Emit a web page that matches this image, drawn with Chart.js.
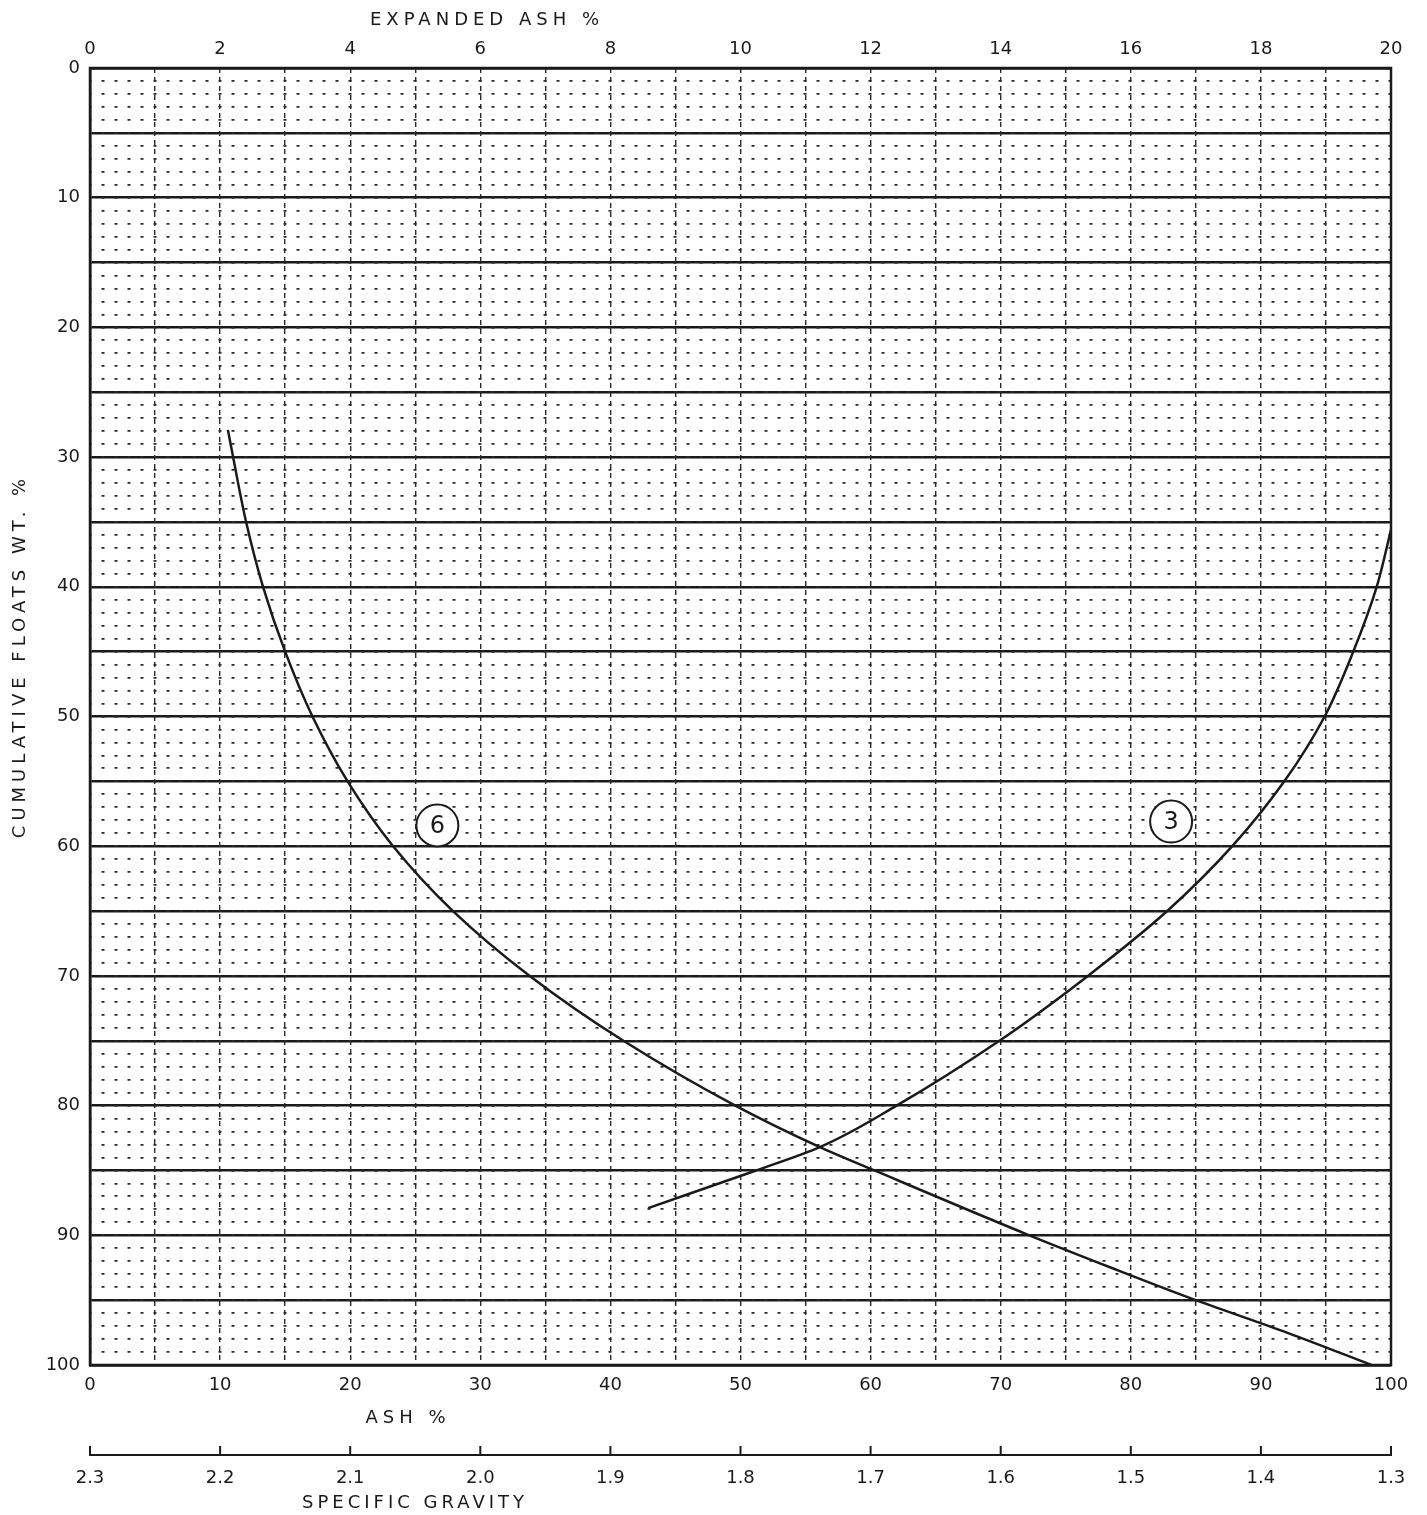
<!DOCTYPE html>
<html>
<head>
<meta charset="utf-8">
<script src="https://cdn.jsdelivr.net/npm/chart.js@4"></script>
<style>
  body { margin: 0; background: #fff; }
  #wrap { width: 1427px; height: 1515px; position: relative; }
</style>
</head>
<body>
<div id="wrap"><canvas id="chart"></canvas></div>
<script>
// Curve 6: ash % vs cumulative floats wt. %
const curve6Ash    = [10.6, 11.0, 12.0, 13.3, 15.0, 17.1, 19.8, 23.3, 27.9, 33.8, 41.0, 49.6, 56.1, 60.3, 72.2, 78.5, 85.0, 92.0, 98.5];
const curve6Floats = [27.9, 30, 35, 40, 45, 50, 55, 60, 65, 70, 75, 80, 83.2, 85, 90, 92.5, 95, 97.5, 100];

// Curve 3
const curve3Ash    = [100, 98.9, 97.1, 94.9, 91.8, 87.8, 82.8, 76.7, 69.9, 62.0, 56.1, 51.2, 42.9];
const curve3Floats = [35.6, 40, 45, 50, 55, 60, 65, 70, 75, 80, 83.2, 85, 87.9];

// curve tags: [label, ash, floats]
const curveTags = [['6', 26.7, 58.4], ['3', 83.1, 58.1]];

// axis ranges / labels
const ashRange = [0, 100];
const expandedAshRange = [0, 20];
const floatsRange = [0, 100];
const sgRange = [1.3, 2.3];

const INK = '#1a1a1a';
const FONT = "'DejaVu Sans', sans-serif";

const toPoints = (xs, ys) => xs.map((x, i) => ({ x: x, y: ys[i] }));

// draws frame, specific gravity tick marks, titles and circled curve numbers
const extras = {
  id: 'extras',
  afterDraw(chart) {
    const ctx = chart.ctx;
    const a = chart.chartArea;
    const sx = chart.scales.x, sy = chart.scales.y, sg = chart.scales.sg;
    ctx.save();

    // frame
    ctx.strokeStyle = INK;
    ctx.lineWidth = 2.5;
    ctx.strokeRect(a.left, a.top, a.right - a.left, a.bottom - a.top);

    // specific gravity ticks point upward
    ctx.lineWidth = 2;
    sg.ticks.forEach(t => {
      const px = sg.getPixelForValue(t.value);
      ctx.beginPath();
      ctx.moveTo(px, sg.top);
      ctx.lineTo(px, sg.top - 9);
      ctx.stroke();
    });

    // titles
    ctx.fillStyle = INK;
    ctx.font = '18px ' + FONT;
    ctx.letterSpacing = '5px';
    ctx.textAlign = 'center';
    ctx.textBaseline = 'middle';
    ctx.fillText('EXPANDED ASH %', 487, 20);
    ctx.fillText('ASH %', 408, 1418);
    ctx.letterSpacing = '4px';
    ctx.fillText('SPECIFIC GRAVITY', 415, 1503);
    ctx.letterSpacing = '5px';
    ctx.save();
    ctx.translate(20, 656);
    ctx.rotate(-Math.PI / 2);
    ctx.fillText('CUMULATIVE FLOATS WT. %', 0, 0);
    ctx.restore();
    ctx.letterSpacing = '0px';

    // circled curve numbers
    curveTags.forEach(([lab, x, y]) => {
      const px = sx.getPixelForValue(x), py = sy.getPixelForValue(y);
      ctx.beginPath();
      ctx.arc(px, py, 21, 0, Math.PI * 2);
      ctx.fillStyle = '#fff';
      ctx.fill();
      ctx.lineWidth = 2;
      ctx.strokeStyle = INK;
      ctx.stroke();
      ctx.fillStyle = INK;
      ctx.font = '24px ' + FONT;
      ctx.fillText(lab, px, py + 1);
    });
    ctx.restore();
  }
};

// curves are smoothed along the floats axis
const lineStyle = {
  showLine: true,
  indexAxis: 'y',
  borderColor: INK,
  borderWidth: 2.5,
  pointRadius: 0,
  cubicInterpolationMode: 'monotone',
  fill: false
};

new Chart(document.getElementById('chart'), {
  type: 'scatter',
  data: {
    datasets: [
      Object.assign({ label: '6', data: toPoints(curve6Ash, curve6Floats) }, lineStyle),
      Object.assign({ label: '3', data: toPoints(curve3Ash, curve3Floats) }, lineStyle)
    ]
  },
  options: {
    responsive: true,
    maintainAspectRatio: false,
    animation: false,
    layout: { padding: { left: 0, right: 36, top: 0, bottom: 0 } },
    plugins: { legend: { display: false }, tooltip: { enabled: false } },
    scales: {
      x: {
        type: 'linear', position: 'bottom', weight: 0,
        min: ashRange[0], max: ashRange[1],
        ticks: {
          stepSize: 5, padding: 10, color: INK, font: { family: FONT, size: 18 },
          maxRotation: 0, autoSkip: false,
          callback: v => (v % 10 === 0 ? String(v) : '')
        },
        grid: { color: '#2a2a2a', lineWidth: 1.4, drawTicks: false },
        border: { display: true, color: INK, width: 2.5, dash: [5, 4] },
        afterFit: s => { s.height = 90; }
      },
      sg: {
        type: 'linear', position: 'bottom', weight: 1,
        min: sgRange[0], max: sgRange[1], reverse: true,
        ticks: {
          stepSize: 0.1, padding: 13, color: INK, font: { family: FONT, size: 18 },
          maxRotation: 0, autoSkip: false,
          callback: v => v.toFixed(1)
        },
        grid: { drawOnChartArea: false, drawTicks: false },
        border: { display: true, color: INK, width: 2 },
        afterFit: s => { s.height = 60; }
      },
      x2: {
        type: 'linear', position: 'top',
        min: expandedAshRange[0], max: expandedAshRange[1],
        ticks: {
          stepSize: 2, padding: 8, color: INK, font: { family: FONT, size: 18 },
          maxRotation: 0, autoSkip: false
        },
        grid: { drawOnChartArea: false, drawTicks: false },
        border: { display: true, color: INK, width: 2.5 },
        afterFit: s => { s.height = 68; }
      },
      y: {
        type: 'linear', position: 'left', reverse: true,
        min: floatsRange[0], max: floatsRange[1],
        ticks: {
          stepSize: 5, padding: 10, color: INK, font: { family: FONT, size: 18 },
          autoSkip: false,
          callback: v => (v % 10 === 0 ? String(v) : '')
        },
        grid: { color: INK, lineWidth: 2.5, drawTicks: false },
        border: { display: true, color: INK, width: 2.5 },
        afterFit: s => { s.width = 90; }
      },
      yMinor: {
        type: 'linear', position: 'right', reverse: true,
        min: floatsRange[0], max: floatsRange[1],
        ticks: { stepSize: 1, display: false, autoSkip: false },
        grid: { color: '#2a2a2a', lineWidth: 1.8, drawTicks: false },
        border: { display: false, dash: [3, 10], dashOffset: 1.5 },
        afterFit: s => { s.width = 0; }
      }
    }
  },
  plugins: [extras]
});
</script>
</body>
</html>
